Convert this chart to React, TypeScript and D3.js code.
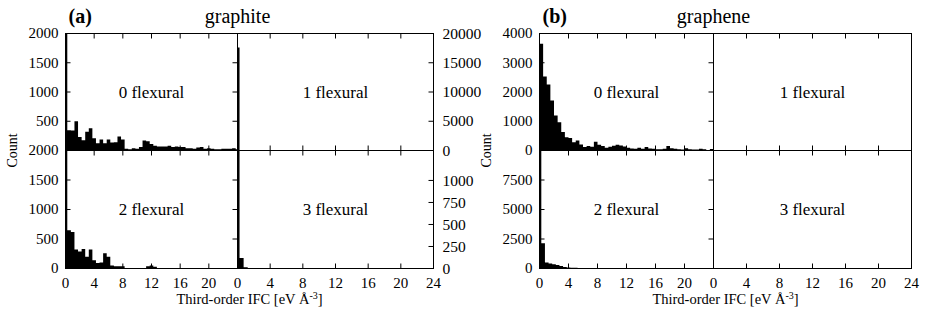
import * as d3 from 'd3';

// histogram bin width in eV/Å^3
const binWidth = 0.5;

// graphite, counts per bin (bins centred on 0, 0.5, 1.0 ...)
const graphite0 = [2600, 345, 340, 500, 230, 175, 320, 380, 210, 125, 190, 125, 190, 135, 140, 240, 190, 30, 20, 40, 30, 60, 170, 160, 110, 80, 70, 70, 70, 80, 60, 70, 60, 60, 40, 40, 30, 50, 60, 30, 40, 30, 20, 20, 30, 30, 30, 40, 20];
const graphite1 = [17600, 30, 10];
const graphite2 = [2600, 650, 620, 320, 290, 330, 200, 320, 140, 95, 100, 260, 200, 50, 40, 40, 40, 10, 10, 10, 10, 10, 10, 40, 50, 30, 10, 5, 5, 5, 5, 5, 5, 5, 5, 5, 5, 5, 5, 5, 5, 5, 5, 5, 5, 5, 5, 5, 5];
const graphite3 = [2000, 120, 15];

// graphene, counts per bin (bins starting at 0, 0.5, 1.0 ...)
const graphene0 = [3650, 2530, 2260, 1710, 1200, 970, 630, 455, 430, 285, 340, 205, 120, 150, 130, 300, 200, 150, 90, 130, 160, 200, 170, 140, 90, 70, 60, 90, 60, 120, 70, 60, 40, 40, 60, 150, 80, 60, 40, 30, 80, 40, 30, 30, 60, 40, 20, 50];
const graphene1: number[] = [];
const graphene2 = [12000, 2150, 500, 420, 350, 300, 220, 130, 80, 70, 60, 50, 40, 40, 30, 30, 30, 20, 20, 20, 20, 20, 20, 20, 40, 40, 40, 30, 20, 20, 10, 10, 10, 10, 10, 10, 10, 10, 10, 10, 10, 10, 10, 10, 10, 10, 10, 10];
const graphene3: number[] = [];

const panelNames = [['0 flexural', '1 flexural'], ['2 flexural', '3 flexural']];

// tick values
const xTicksLeft = [0, 4, 8, 12, 16, 20];
const xTicksRight = [0, 4, 8, 12, 16, 20, 24];
const graphiteLeftTop = [500, 1000, 1500, 2000];
const graphiteLeftBottom = [0, 500, 1000, 1500, 2000];
const graphiteRightTop = [0, 5000, 10000, 15000, 20000];
const graphiteRightBottom = [0, 250, 500, 750, 1000];
const grapheneLeftTop = [0, 1000, 2000, 3000, 4000];
const grapheneLeftBottom = [0, 2500, 5000, 7500];

const FONT = '"Liberation Serif", "DejaVu Serif", serif';
const TICK = 5;

type Box = { x0: number; xm: number; x1: number; y0: number; ym: number; y1: number };

interface FigProps {
  box: Box;
  tag: string;
  title: string;
  data: number[][][];
  yMax: number[][]; // [row][col]
  align: string[][];
  leftLabels: number[][];
  rightLabels: number[][] | null;
}

// all boxes of one histogram in a single path, so no seams between bars
function Bars({ counts, x, y, align }: { counts: number[]; x: any; y: any; align: string }) {
  const top = y.range()[1];
  const p = d3.path();
  counts.forEach((c, i) => {
    const lo = align === 'center' ? i * binWidth - binWidth / 2 : i * binWidth;
    const a = Math.max(0, lo);
    const b = Math.min(24, lo + binWidth);
    if (c <= 0 || b <= a) return;
    const yy = Math.max(y(c), top);
    p.rect(x(a), yy, x(b) - x(a), y(0) - yy);
  });
  return <path d={p.toString()} fill="#000" />;
}

function Figure({ box, tag, title, data, yMax, align, leftLabels, rightLabels }: FigProps) {
  const xs = [
    d3.scaleLinear().domain([0, 24]).range([box.x0, box.xm]),
    d3.scaleLinear().domain([0, 24]).range([box.xm, box.x1]),
  ];
  const rows = [
    [box.ym, box.y0],
    [box.y1, box.ym],
  ];
  const ys = yMax.map((r, ri) => r.map((m) => d3.scaleLinear().domain([0, m]).range(rows[ri])));
  const cx = (box.x0 + box.x1) / 2;

  return (
    <g fontFamily={FONT} fill="#000">
      {/* histograms */}
      {data.map((r, ri) =>
        r.map((counts, ci) => (
          <Bars key={`${ri}-${ci}`} counts={counts} x={xs[ci]} y={ys[ri][ci]} align={align[ri][ci]} />
        ))
      )}

      {/* frame */}
      <rect x={box.x0} y={box.y0} width={box.x1 - box.x0} height={box.y1 - box.y0} fill="none" stroke="#000" strokeWidth={1} />
      <line x1={box.x0} x2={box.x1} y1={box.ym} y2={box.ym} stroke="#000" />
      <line x1={box.xm} x2={box.xm} y1={box.y0} y2={box.y1} stroke="#000" />

      {/* x ticks */}
      {xs.map((x, ci) =>
        (ci === 0 ? xTicksLeft : xTicksRight).map((t) => (
          <g key={`xt${ci}-${t}`} stroke="#000">
            <line x1={x(t)} x2={x(t)} y1={box.y0} y2={box.y0 + TICK} />
            <line x1={x(t)} x2={x(t)} y1={box.ym - TICK} y2={box.ym + TICK} />
            <line x1={x(t)} x2={x(t)} y1={box.y1} y2={box.y1 - TICK} />
          </g>
        ))
      )}
      {xs.map((x, ci) =>
        (ci === 0 ? xTicksLeft : xTicksRight).map((t) => (
          <text key={`xl${ci}-${t}`} x={x(t)} y={box.y1 + 19} fontSize={15} textAnchor="middle">
            {t}
          </text>
        ))
      )}

      {/* left y ticks and labels */}
      {leftLabels.map((vals, ri) =>
        vals.map((v) => {
          const yy = ys[ri][0](v);
          return (
            <g key={`yl${ri}-${v}`}>
              <line x1={box.x0} x2={box.x0 + TICK} y1={yy} y2={yy} stroke="#000" />
              <line x1={box.xm - TICK} x2={box.xm} y1={yy} y2={yy} stroke="#000" />
              <text x={box.x0 - 7} y={yy} dy="0.33em" fontSize={15} textAnchor="end">
                {v}
              </text>
            </g>
          );
        })
      )}

      {/* right y ticks and labels */}
      {rightLabels &&
        rightLabels.map((vals, ri) =>
          vals.map((v) => {
            const yy = ys[ri][1](v);
            return (
              <g key={`yr${ri}-${v}`}>
                <line x1={box.x1 - TICK} x2={box.x1} y1={yy} y2={yy} stroke="#000" />
                <text x={box.x1 + 9} y={yy} dy="0.33em" fontSize={15.5} textAnchor="start">
                  {v}
                </text>
              </g>
            );
          })
        )}

      {/* panel names */}
      {panelNames.map((r, ri) =>
        r.map((name, ci) => (
          <text
            key={name}
            x={(xs[ci].range()[0] + xs[ci].range()[1]) / 2}
            y={(rows[ri][0] + rows[ri][1]) / 2}
            dy="0.33em"
            fontSize={17}
            textAnchor="middle"
          >
            {name}
          </text>
        ))
      )}

      {/* titles */}
      <text x={box.x0 + 3} y={box.y0 - 11} fontSize={20} fontWeight="bold">
        {tag}
      </text>
      <text x={box.xm} y={box.y0 - 11} fontSize={20} textAnchor="middle">
        {title}
      </text>

      {/* axis labels */}
      <text transform={`translate(${box.x0 - 49},${box.ym}) rotate(-90)`} fontSize={14} textAnchor="middle">
        Count
      </text>
      <text x={cx} y={box.y1 + 35} fontSize={14.5} textAnchor="middle">
        Third-order IFC [eV Å<tspan dy="-5" fontSize={10}>-3</tspan>
        <tspan dy="5">]</tspan>
      </text>
    </g>
  );
}

export default function App() {
  const boxA: Box = { x0: 65.5, xm: 237.5, x1: 433.5, y0: 33.5, ym: 150.5, y1: 268.5 };
  const boxB: Box = { x0: 539.5, xm: 713.5, x1: 911.5, y0: 33.5, ym: 150.5, y1: 268.5 };
  return (
    <svg width={926} height={318} style={{ position: 'absolute', left: 0, top: 0, background: '#fff' }}>
      <rect width={926} height={318} fill="#fff" />
      <Figure
        box={boxA}
        tag="(a)"
        title="graphite"
        data={[
          [graphite0, graphite1],
          [graphite2, graphite3],
        ]}
        yMax={[
          [2000, 20000],
          [2000, 1340],
        ]}
        align={[
          ['center', 'center'],
          ['center', 'center'],
        ]}
        leftLabels={[graphiteLeftTop, graphiteLeftBottom]}
        rightLabels={[graphiteRightTop, graphiteRightBottom]}
      />
      <Figure
        box={boxB}
        tag="(b)"
        title="graphene"
        data={[
          [graphene0, graphene1],
          [graphene2, graphene3],
        ]}
        yMax={[
          [4000, 4000],
          [10000, 10000],
        ]}
        align={[
          ['left', 'left'],
          ['center', 'center'],
        ]}
        leftLabels={[grapheneLeftTop, grapheneLeftBottom]}
        rightLabels={null}
      />
    </svg>
  );
}
